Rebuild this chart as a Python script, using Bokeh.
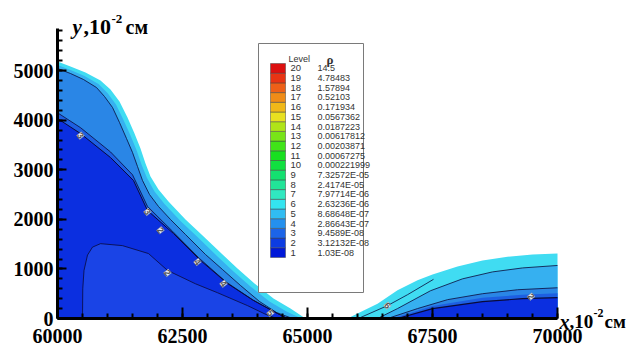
from bokeh.plotting import figure
from bokeh.models import Range1d, SingleIntervalTicker, Label, LabelSet, ColumnDataSource
from bokeh.embed import file_html
from bokeh.resources import INLINE
from bokeh.core.properties import value

# ---------------- data ----------------
X_START, X_END = 60000, 70000          # x axis, 10^-2 cm
Y_START, Y_END = 0, 5850               # y axis, 10^-2 cm
X_TICK, Y_TICK = 2500, 1000

# left blob: contour boundaries
L6_X = [60000, 60260, 60560, 60860, 61060, 61240, 61400, 61540, 61660, 61760, 61860, 62020, 62220, 62560, 62880, 63280, 63600, 63940, 64320, 64660, 64960]
L6_Y = [5184, 5083, 4962, 4801, 4620, 4378, 4055, 3732, 3429, 3127, 2864, 2602, 2360, 1997, 1694, 1311, 1009, 706, 403, 202, 0]
L5_X = [60000, 60260, 60540, 60820, 61000, 61170, 61320, 61460, 61580, 61680, 61790, 61940, 62140, 62480, 62800, 63200, 63520, 63860, 64240, 64580, 64880]
L5_Y = [5114, 5013, 4892, 4730, 4549, 4317, 4004, 3691, 3399, 3107, 2834, 2562, 2310, 1947, 1644, 1251, 948, 645, 343, 141, 0]
L4_X = [60000, 60260, 60520, 60780, 60940, 61100, 61240, 61380, 61500, 61600, 61700, 61840, 62020, 62260, 62560, 62960, 63300, 63660, 64040, 64380, 64700]
L4_Y = [5043, 4942, 4821, 4659, 4478, 4257, 3954, 3631, 3349, 3066, 2784, 2501, 2259, 1997, 1694, 1291, 988, 666, 343, 121, 0]
L3_X = [60000, 60460, 61060, 61500, 61800, 62300, 62840, 63380, 63900, 64380, 64600]
L3_Y = [4150, 3850, 3360, 2900, 2260, 1760, 1210, 730, 380, 110, 0]
L1_X = [60000, 60460, 61060, 61520, 61800, 62320, 62860, 63400, 63920, 64400, 64600]
L1_Y = [4034, 3731, 3247, 2783, 2178, 1714, 1170, 706, 363, 101, 0]
L2_X = [60500, 60505, 60530, 60600, 60700, 60860, 61300, 61820, 62200, 62760, 63200, 63800, 64150, 64380]
L2_Y = [0, 600, 970, 1280, 1440, 1510, 1470, 1310, 970, 700, 520, 260, 90, 0]

# right blob
R6_X = [65800, 66000, 66400, 66800, 67200, 67500, 68000, 68500, 69000, 69500, 70000]
R6_Y = [0, 100, 300, 570, 770, 890, 1050, 1170, 1245, 1290, 1310]
R5_X = [66400, 66800, 67460, 68100, 68700, 69300, 70000]
R5_Y = [0, 200, 560, 800, 940, 1020, 1070]
R4_X = [66600, 67200, 67800, 68500, 69200, 70000]
R4_Y = [0, 200, 380, 500, 580, 620]
R3_X = [66700, 67500, 68500, 69300, 70000]
R3_Y = [0, 250, 420, 480, 510]
R1_X = [66800, 67500, 68500, 69300, 70000]
R1_Y = [0, 200, 340, 400, 420]
RL_X = [66060, 66600, 67000, 67520]
RL_Y = [20, 260, 480, 790]

# contour labels
CL_X = [60460, 61800, 62060, 62200, 62800, 63320, 64260, 66600, 69470]
CL_Y = [3690, 2150, 1780, 920, 1140, 700, 110, 260, 440]
CL_T = ["3", "3", "2", "2", "4", "4", "5", "6", "2"]

# legend
LEVELS = list(range(1, 21))
LEVEL_VALUES = ["1.03E-08", "3.12132E-08", "9.4589E-08", "2.86643E-07", "8.68648E-07",
                "2.63236E-06", "7.97714E-06", "2.4174E-05", "7.32572E-05", "0.000221999",
                "0.00067275", "0.00203871", "0.00617812", "0.0187223", "0.0567362",
                "0.171934", "0.52103", "1.57894", "4.78483", "14.5"]
LEVEL_COLORS = ["#0018d8", "#0c3ce2", "#1c64e8", "#2490ee", "#30bcf2", "#34e4f0", "#30e8c0",
                "#22e498", "#14e070", "#10e040", "#18e020", "#40e418", "#78e418", "#b0e418",
                "#e8e020", "#f0b818", "#f08c18", "#ee6018", "#e83414", "#dc1010"]

# region fill colours
C_L6 = "#40dcf2"
C_L5 = "#36b0f0"
C_L4 = "#2a86e6"
C_L3 = "#1d5fe2"
C_L1 = "#0b2fe0"
C_L2 = "#1a44e6"
C_LINE = "#0a0a3a"

# ---------------- layout ----------------
W, H = 633, 356
FRAME_L, FRAME_R, FRAME_T, FRAME_B = 57, 557, 28, 318   # pixel box of the axes
PX_PER_X = (FRAME_R - FRAME_L) / (X_END - X_START)
PX_PER_Y = (FRAME_B - FRAME_T) / (Y_END - Y_START)
VX0 = X_START - FRAME_L / PX_PER_X
VX1 = X_START + (W - FRAME_L) / PX_PER_X
VY0 = Y_START - (H - FRAME_B) / PX_PER_Y
VY1 = Y_START + FRAME_B / PX_PER_Y


def px_x(px):
    return VX0 + px / PX_PER_X


def px_y(py):
    return VY1 - py / PX_PER_Y


p = figure(width=W, height=H, x_range=Range1d(VX0, VX1), y_range=Range1d(VY0, VY1),
           output_backend="svg", toolbar_location=None,
           min_border=0, min_border_left=0, min_border_right=0,
           min_border_top=0, min_border_bottom=0)
p.outline_line_color = None
p.grid.visible = False
p.background_fill_color = "white"
p.border_fill_color = "white"


def region(xs, ys):
    return xs + [xs[-1], xs[0]], ys + [0, 0]


for xs, ys, c in [(L6_X, L6_Y, C_L6), (L5_X, L5_Y, C_L5), (L4_X, L4_Y, C_L4),
                  (L3_X, L3_Y, C_L3), (L1_X, L1_Y, C_L1), (L2_X, L2_Y, C_L2),
                  (R6_X, R6_Y, C_L6), (R5_X, R5_Y, C_L5), (R4_X, R4_Y, C_L4),
                  (R3_X, R3_Y, C_L3), (R1_X, R1_Y, C_L1)]:
    px_, py_ = region(xs, ys)
    p.patch(px_, py_, fill_color=c, line_color=None)

for xs, ys, w in [(L4_X, L4_Y, 0.8), (L3_X, L3_Y, 0.8), (L1_X, L1_Y, 1.0), (L2_X, L2_Y, 0.8),
                  (R5_X, R5_Y, 0.8), (R4_X, R4_Y, 0.8), (R1_X, R1_Y, 1.2), (RL_X, RL_Y, 0.8)]:
    p.line(xs, ys, line_color=C_LINE, line_width=w)

cl_src = ColumnDataSource(dict(x=CL_X, y=CL_Y, t=CL_T))
p.add_layout(LabelSet(x="x", y="y", text="t", source=cl_src, angle=-0.9,
                      text_font=value("Liberation Sans"), text_font_size="9px",
                      text_font_style="bold",
                      text_color="#555555", text_align="center", text_baseline="middle",
                      background_fill_color="white", background_fill_alpha=0.9,
                      border_line_color="#999999", border_line_width=0.5))

# axes (placed at data positions, spanning only the data limits)
p.xaxis.fixed_location = Y_START
p.yaxis.fixed_location = X_START
p.xaxis.bounds = (X_START, X_END)
p.yaxis.bounds = (Y_START, Y_END)
p.xaxis.ticker = SingleIntervalTicker(interval=X_TICK, num_minor_ticks=5)
p.yaxis.ticker = SingleIntervalTicker(interval=Y_TICK, num_minor_ticks=5)
for ax in (p.xaxis[0], p.yaxis[0]):
    ax.axis_line_width = 3
    ax.axis_line_color = "black"
    ax.major_tick_in = 9
    ax.major_tick_out = 0
    ax.major_tick_line_width = 2
    ax.minor_tick_in = 5
    ax.minor_tick_out = 0
    ax.minor_tick_line_width = 2
    ax.major_label_text_font = "Liberation Serif"
    ax.major_label_text_font_style = "bold"
    ax.major_label_text_font_size = "20px"
    ax.major_label_text_color = "black"
p.xaxis.major_tick_in = 11
p.xaxis.major_label_standoff = 10
p.yaxis.major_label_standoff = 4


# axis titles
def add_title(px, py, text, size, style="bold"):
    p.add_layout(Label(x=px_x(px), y=px_y(py), text=text, text_font="Liberation Serif",
                       text_font_style=style, text_font_size=size, text_color="black",
                       text_baseline="alphabetic", text_align="left"))


add_title(72, 26, "y", "21px", "bold italic")
add_title(83, 26, ",10", "22px")
add_title(111, 18, "-2", "13px")
add_title(125, 26, "см", "20px")

add_title(559, 321, "x", "20px", "bold italic")
add_title(569, 321, ",10", "19px")
add_title(593, 312, "-2", "12px")
add_title(604, 321, "см", "19px")

# legend box
p.quad(left=[px_x(258)], right=[px_x(363)], top=[px_y(43)], bottom=[px_y(292)],
       fill_color="white", line_color="#7a7a7a", line_width=1)
ROW_H = 9.7
ROW0 = 63
sw_top = [px_y(ROW0 + (20 - l) * ROW_H) for l in LEVELS]
sw_bot = [px_y(ROW0 + (21 - l) * ROW_H) for l in LEVELS]
p.quad(left=px_x(270), right=px_x(285), top=sw_top, bottom=sw_bot,
       fill_color=LEVEL_COLORS, line_color="#444444", line_width=0.5)
row_y = [px_y(ROW0 + (20 - l) * ROW_H + ROW_H / 2) for l in LEVELS]
p.text(x=px_x(290), y=row_y, text=[str(l) for l in LEVELS], text_font=value("Liberation Sans"),
       text_font_size="9.5px", text_color="#333333", text_baseline="middle")
p.text(x=px_x(317), y=row_y, text=LEVEL_VALUES, text_font=value("Liberation Sans"),
       text_font_size="9px", text_color="#333333", text_baseline="middle")
p.text(x=[px_x(288)], y=[px_y(58)], text=["Level"], text_font=value("Liberation Sans"),
       text_font_size="9px", text_color="#333333", text_baseline="alphabetic")
p.text(x=[px_x(326)], y=[px_y(59)], text=["ρ"], text_font=value("Liberation Serif"),
       text_font_style="bold", text_font_size="13px", text_color="#333333",
       text_baseline="alphabetic")

open("out.html", "w").write(file_html(p, INLINE))
